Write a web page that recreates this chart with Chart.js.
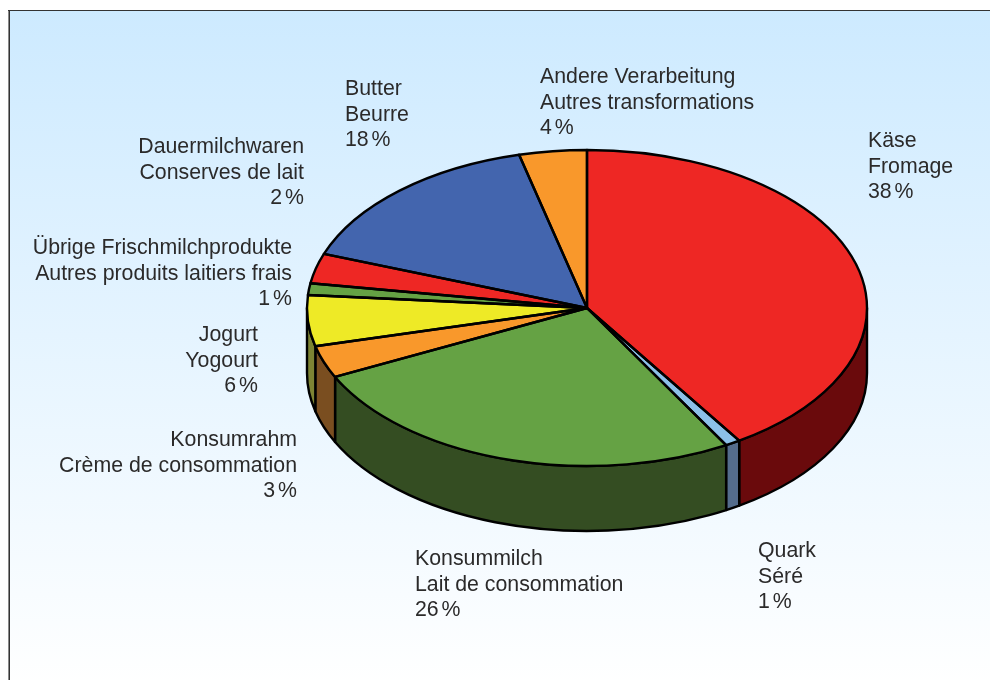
<!DOCTYPE html>
<html>
<head>
<meta charset="utf-8">
<script src="https://cdn.jsdelivr.net/npm/chart.js@4"></script>
<style>
html,body{margin:0;padding:0;background:#fff;}
canvas{display:block;}
</style>
</head>
<body>
<canvas id="c" width="990" height="680"></canvas>
<script>
const categories = ["Käse","Quark","Konsummilch","Konsumrahm","Jogurt","Übrige Frischmilchprodukte","Dauermilchwaren","Butter","Andere Verarbeitung"];
const sliceShares = [40.87,0.87,26.1,3.3,5.2,1.2,3.05,15.55,3.9];
const topColors = ["#ee2724","#8cc0e8","#65a244","#f9982b","#eeea26","#65a244","#ee2724","#4365ae","#f9982b"];
const sideColors = ["#6a0a0c","#546c8c","#344d22","#7a4e20","#7d8434","#344d22","#6a0a0c","#2a3d6c","#7a4e20"];
const labelLines = [
  ["Käse","Fromage"],
  ["Quark","Séré"],
  ["Konsummilch","Lait de consommation"],
  ["Konsumrahm","Crème de consommation"],
  ["Jogurt","Yogourt"],
  ["Übrige Frischmilchprodukte","Autres produits laitiers frais"],
  ["Dauermilchwaren","Conserves de lait"],
  ["Butter","Beurre"],
  ["Andere Verarbeitung","Autres transformations"]
];
const printedPercents = ["38 %","1 %","26 %","3 %","6 %","1 %","2 %","18 %","4 %"];
const labelAnchors = [
  {x:868,y:141,align:"left"},
  {x:758,y:551,align:"left"},
  {x:415,y:559,align:"left"},
  {x:297,y:440,align:"right"},
  {x:258,y:335,align:"right"},
  {x:292,y:248,align:"right"},
  {x:304,y:147,align:"right"},
  {x:345,y:89,align:"left"},
  {x:540,y:77,align:"left"}
];

const CX = 587, CY = 308, TILT = 158 / 280, DEPTH = 65, LINE = 25.8, STROKE = 2.4;

const backdrop = {
  id: "backdrop",
  beforeDraw(chart) {
    const ctx = chart.ctx;
    const g = ctx.createLinearGradient(0, 10, 0, 690);
    g.addColorStop(0, "#cdeaff");
    g.addColorStop(1, "#ffffff");
    ctx.save();
    ctx.fillStyle = g;
    ctx.fillRect(9, 10, 981, 670);
    ctx.fillStyle = "#8a8a8a";
    ctx.fillRect(8, 10, 1, 670);
    ctx.fillStyle = "#333333";
    ctx.fillRect(9, 10, 1, 670);
    ctx.fillRect(8, 10, 982, 1);
    ctx.restore();
  }
};

const tiltedPie = {
  id: "tiltedPie",
  beforeDatasetsDraw(chart) {
    const ctx = chart.ctx;
    const arcs = chart.getDatasetMeta(0).data;
    ctx.save();
    ctx.lineWidth = STROKE;
    ctx.strokeStyle = "#000";
    ctx.lineJoin = "round";
    arcs.forEach((arc, i) => {
      const p = arc.getProps(["startAngle", "endAngle", "outerRadius"], true);
      const a0 = Math.max(p.startAngle, 0), a1 = Math.min(p.endAngle, Math.PI);
      if (a1 <= a0) return;
      const rx = p.outerRadius, ry = rx * TILT;
      ctx.beginPath();
      ctx.ellipse(CX, CY, rx, ry, 0, a0, a1);
      ctx.ellipse(CX, CY + DEPTH, rx, ry, 0, a1, a0, true);
      ctx.closePath();
      ctx.fillStyle = sideColors[i];
      ctx.fill();
      ctx.stroke();
    });
    ctx.restore();
    const p0 = arcs[0].getProps(["x", "y"], true);
    ctx.save();
    ctx.translate(CX, CY);
    ctx.scale(1, TILT);
    ctx.translate(-p0.x, -p0.y);
  },
  afterDatasetsDraw(chart) {
    const ctx = chart.ctx;
    ctx.restore();
    const arcs = chart.getDatasetMeta(0).data;
    ctx.save();
    ctx.lineWidth = STROKE;
    ctx.strokeStyle = "#000";
    ctx.lineJoin = "round";
    arcs.forEach(arc => {
      const p = arc.getProps(["startAngle", "endAngle", "outerRadius"], true);
      const rx = p.outerRadius, ry = rx * TILT;
      ctx.beginPath();
      ctx.moveTo(CX, CY);
      ctx.ellipse(CX, CY, rx, ry, 0, p.startAngle, p.endAngle);
      ctx.closePath();
      ctx.stroke();
    });
    ctx.restore();
  },
  afterDraw(chart) {
    const ctx = chart.ctx;
    ctx.save();
    ctx.fillStyle = "#2b2a2a";
    ctx.font = '21.3px "Liberation Sans", Arial, sans-serif';
    ctx.textBaseline = "middle";
    labelAnchors.forEach((a, i) => {
      ctx.textAlign = a.align;
      labelLines[i].forEach((t, k) => ctx.fillText(t, a.x, a.y + k * LINE));
      ctx.wordSpacing = "-3px";
      ctx.fillText(printedPercents[i], a.x, a.y + labelLines[i].length * LINE);
      ctx.wordSpacing = "0px";
    });
    ctx.restore();
  }
};

new Chart(document.getElementById("c"), {
  type: "pie",
  data: {
    labels: categories,
    datasets: [{ data: sliceShares, backgroundColor: topColors, borderWidth: 0 }]
  },
  options: {
    responsive: false,
    animation: false,
    radius: 280,
    layout: { padding: { left: 184 } },
    plugins: { legend: { display: false }, tooltip: { enabled: false } }
  },
  plugins: [backdrop, tiltedPie]
});
</script>
</body>
</html>
